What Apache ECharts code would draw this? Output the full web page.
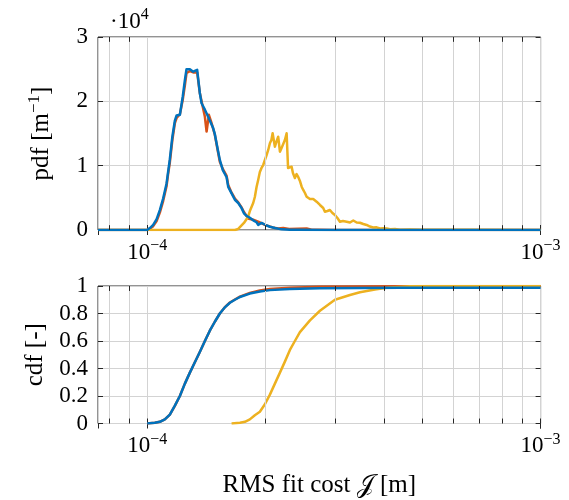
<!DOCTYPE html>
<html>
<head>
<meta charset="utf-8">
<script src="https://cdn.jsdelivr.net/npm/echarts@6/dist/echarts.min.js"></script>
<style>
  html, body { margin: 0; padding: 0; background: #ffffff; }
  #chart { width: 569px; height: 500px; }
</style>
</head>
<body>
<div id="chart"></div>
<script>
// Units used by the arrays below
const X_UNIT = 1e-4;     // RMS fit cost, stored in units of 1e-4 m
// pdf values are stored in units of 1e4 m^-1 (the axis carries the ·10^4 factor)

// x-axis range and minor grid positions (units of 1e-4 m)
const xMin = 0.75;
const xMax = 10;
const minorGridX = [0.8, 0.9, 2, 3, 4, 5, 6, 7, 8, 9];

// y-axis ticks
const pdfTicks = [0, 1, 2, 3];
const cdfTicks = [0, 0.2, 0.4, 0.6, 0.8, 1];

// ---- pdf, orange ----
const pdfOrangeX = [0.75, 1.00, 1.016, 1.036, 1.057, 1.077, 1.098, 1.120, 1.131, 1.142, 1.159, 1.176, 1.188, 1.211,
  1.232, 1.247, 1.259, 1.284, 1.309, 1.322, 1.340, 1.361, 1.375, 1.402, 1.416, 1.435, 1.458, 1.486, 1.513, 1.530,
  1.557, 1.592, 1.607, 1.639, 1.671, 1.704, 1.738, 1.762, 1.806, 1.860, 1.915, 1.992, 2.084, 2.153, 2.217, 2.296,
  2.543, 2.618, 2.749, 3.0, 10];
const pdfOrange = [0, 0, 0.02, 0.06, 0.14, 0.27, 0.45, 0.68, 0.88, 1.05, 1.40, 1.66, 1.74, 1.80,
  2.03, 2.25, 2.44, 2.47, 2.45, 2.46, 2.45, 2.13, 2.10, 1.76, 1.53, 1.79, 1.66, 1.48, 1.22, 1.06,
  0.95, 0.84, 0.70, 0.58, 0.49, 0.43, 0.35, 0.28, 0.18, 0.16, 0.13, 0.08, 0.04, 0.025, 0.03, 0.015,
  0.025, 0.005, 0.003, 0, 0];

// ---- pdf, yellow ----
const pdfYellowX = [0.75, 1.639, 1.671, 1.704, 1.721, 1.762, 1.806, 1.824, 1.860, 1.878, 1.897, 1.915, 1.934,
  1.953, 1.972, 1.992, 2.012, 2.031, 2.051, 2.069, 2.084, 2.100, 2.112, 2.130, 2.153, 2.175, 2.196, 2.217,
  2.239, 2.262, 2.281, 2.306, 2.329, 2.347, 2.374, 2.398, 2.421, 2.445, 2.470, 2.493, 2.518, 2.543, 2.567,
  2.593, 2.618, 2.643, 2.696, 2.721, 2.749, 2.802, 2.830, 2.872, 2.914, 2.957, 3.001, 3.045, 3.090, 3.145,
  3.214, 3.277, 3.341, 3.408, 3.474, 3.542, 3.613, 3.683, 3.755, 3.831, 3.906, 3.982, 4.061, 4.141, 4.264,
  4.390, 4.656, 4.935, 5.549, 6.614, 10];
const pdfYellow = [0, 0, 0, 0.016, 0.047, 0.109, 0.207, 0.295, 0.42, 0.513, 0.668, 0.777, 0.902,
  0.964, 1.01, 1.088, 1.166, 1.244, 1.348, 1.399, 1.503, 1.383, 1.295, 1.368, 1.45, 1.217, 1.275, 1.295,
  1.399, 1.503, 0.964, 0.98, 0.984, 0.886, 0.808, 0.87, 0.824, 0.762, 0.673, 0.622, 0.575, 0.518, 0.513,
  0.482, 0.466, 0.482, 0.44, 0.427, 0.389, 0.342, 0.284, 0.295, 0.311, 0.264, 0.233, 0.187, 0.129, 0.14,
  0.129, 0.117, 0.148, 0.117, 0.113, 0.093, 0.078, 0.054, 0.039, 0.042, 0.023, 0.026, 0.023, 0.011, 0.016,
  0.005, 0.008, 0.005, 0.003, 0.002, 0];

// ---- pdf, blue ----
const pdfBlueX = [0.75, 1.00, 1.016, 1.036, 1.057, 1.077, 1.098, 1.120, 1.142, 1.159, 1.176, 1.188, 1.211,
  1.232, 1.247, 1.259, 1.284, 1.309, 1.322, 1.340, 1.361, 1.375, 1.402, 1.429, 1.443, 1.472, 1.486, 1.513,
  1.530, 1.557, 1.592, 1.607, 1.639, 1.671, 1.704, 1.738, 1.762, 1.789, 1.824, 1.860, 1.897, 1.915, 1.953,
  1.972, 2.012, 2.051, 2.112, 2.196, 2.306, 2.445, 2.749, 10];
const pdfBlue = [0, 0, 0.03, 0.08, 0.17, 0.31, 0.49, 0.72, 1.10, 1.45, 1.70, 1.78, 1.79,
  2.08, 2.33, 2.50, 2.50, 2.46, 2.47, 2.49, 2.13, 1.97, 1.87, 1.76, 1.73, 1.58, 1.49, 1.24,
  1.09, 0.93, 0.82, 0.67, 0.57, 0.47, 0.42, 0.34, 0.26, 0.22, 0.19, 0.15, 0.12, 0.08, 0.11,
  0.11, 0.07, 0.05, 0.03, 0.01, 0.005, 0.003, 0, 0];

// ---- cdf, shared x grid for blue / orange ----
const cdfBOX = [1.0, 1.046, 1.077, 1.109, 1.142, 1.176, 1.211, 1.247, 1.284, 1.322, 1.361, 1.402, 1.443,
  1.486, 1.530, 1.576, 1.623, 1.671, 1.721, 1.824, 1.934, 2.051, 2.306, 2.749, 4.390, 10];
const cdfBlue = [0, 0.005, 0.012, 0.03, 0.065, 0.13, 0.20, 0.29, 0.37, 0.445, 0.52, 0.60, 0.675,
  0.74, 0.80, 0.845, 0.878, 0.90, 0.92, 0.945, 0.96, 0.97, 0.978, 0.984, 0.988, 0.988];
const cdfOrange = [0, 0.005, 0.012, 0.03, 0.064, 0.128, 0.20, 0.29, 0.37, 0.445, 0.52, 0.60, 0.675,
  0.74, 0.80, 0.846, 0.88, 0.902, 0.923, 0.95, 0.967, 0.978, 0.988, 0.994, 0.998, 0.999];

// ---- cdf, yellow ----
const cdfYellowX = [1.639, 1.721, 1.772, 1.824, 1.878, 1.934, 1.992, 2.051, 2.112, 2.175, 2.239, 2.306,
  2.374, 2.445, 2.593, 2.749, 3.001, 3.277, 3.474, 3.793, 4.141, 4.656, 5.233, 10];
const cdfYellow = [0, 0.005, 0.012, 0.03, 0.06, 0.085, 0.14, 0.21, 0.29, 0.37, 0.45, 0.535,
  0.60, 0.665, 0.75, 0.82, 0.90, 0.935, 0.955, 0.975, 0.99, 0.998, 1.0, 1.0];

// Colours
const C_BLUE = '#0072BD';
const C_ORANGE = '#D95319';
const C_YELLOW = '#EDB120';
const C_GRID = '#d3d3d3';
const C_AXIS = '#262626';

const FONT = 'Liberation Serif';
const FS = 23;        // tick labels
const FS_NAME = 25;   // axis titles
const FS_SUP = 16;
const LINE_W = 2.5;

const pairs = (xs, ys) => xs.map((x, i) => [x * X_UNIT, ys[i]]);

function richFor(size, supSize, raise) {
  return {
    base: { fontFamily: FONT, fontSize: size, fontWeight: 'normal', color: '#000', verticalAlign: 'bottom', lineHeight: size },
    sup: { fontFamily: FONT, fontSize: supSize, fontWeight: 'normal', color: '#000', verticalAlign: 'bottom', lineHeight: supSize, padding: [0, 0, raise, 0] }
  };
}
const tickRich = richFor(FS, FS_SUP, 10);
const nameRich = richFor(FS_NAME, 17, 11);

function decadeLabel(v) {
  const e = Math.log10(v);
  const r = Math.round(e);
  if (Math.abs(e - r) > 1e-6) return '';
  return '{base|10}{sup|' + (r < 0 ? '\u2212' : '') + Math.abs(r) + '}';
}

const gridBox = { left: 98, width: 442.6, show: true, borderColor: C_AXIS, borderWidth: 1, backgroundColor: 'transparent' };

function xAxisPair(gi, name) {
  const common = {
    type: 'log', logBase: 10, gridIndex: gi, min: xMin * X_UNIT, max: xMax * X_UNIT,
    axisLine: { show: false },
    axisTick: { show: true, inside: true, length: 5, lineStyle: { color: C_AXIS, width: 1 } },
    splitLine: { show: false }
  };
  const bottom = Object.assign({}, common, {
    position: 'bottom',
    axisLabel: { show: true, formatter: decadeLabel, rich: tickRich, margin: 11, showMinLabel: false, hideOverlap: false },
    splitLine: { show: true, lineStyle: { color: C_GRID, width: 1 } }
  });
  if (name) {
    bottom.name = name;
    bottom.nameLocation = 'middle';
    bottom.nameGap = 49;
    bottom.nameTextStyle = { fontFamily: FONT, fontSize: FS_NAME, color: '#000', rich: nameRich };
  }
  const top = Object.assign({}, common, { position: 'top', axisLabel: { show: false } });
  return [bottom, top];
}

function yAxisPair(gi, ticks, fmt, name) {
  const common = {
    type: 'value', gridIndex: gi, min: ticks[0], max: ticks[ticks.length - 1],
    interval: ticks[1] - ticks[0],
    axisLine: { show: false },
    axisTick: { show: true, inside: true, length: 5, lineStyle: { color: C_AXIS, width: 1 } }
  };
  const left = Object.assign({}, common, {
    position: 'left',
    axisLabel: { show: true, formatter: fmt, fontFamily: FONT, fontSize: FS, color: '#000', margin: 10 },
    splitLine: { show: true, lineStyle: { color: C_GRID, width: 1 } },
    name: name,
    nameLocation: 'middle',
    nameGap: 44,
    nameRotate: 90,
    nameTextStyle: { fontFamily: FONT, fontSize: FS_NAME, color: '#000', rich: nameRich }
  });
  const right = Object.assign({}, common, {
    position: 'right', axisLabel: { show: false }, splitLine: { show: false }
  });
  return [left, right];
}

// Minor log grid lines and their inside ticks for one grid
function minorSeries(xi, yi, yLo, yHi, tickLen) {
  return [
    {
      type: 'line', xAxisIndex: xi, yAxisIndex: yi, data: [], z: 1, silent: true,
      markLine: {
        silent: true, symbol: ['none', 'none'], label: { show: false }, animation: false,
        lineStyle: { color: C_GRID, width: 1, type: 'solid' },
        data: minorGridX.map(v => [{ coord: [v * X_UNIT, yLo] }, { coord: [v * X_UNIT, yHi] }])
      }
    },
    {
      type: 'line', xAxisIndex: xi, yAxisIndex: yi, data: [], z: 2, silent: true,
      markLine: {
        silent: true, symbol: ['none', 'none'], label: { show: false }, animation: false,
        lineStyle: { color: C_AXIS, width: 1, type: 'solid' },
        data: minorGridX.flatMap(v => [
          [{ coord: [v * X_UNIT, yLo] }, { coord: [v * X_UNIT, yLo + tickLen] }],
          [{ coord: [v * X_UNIT, yHi] }, { coord: [v * X_UNIT, yHi - tickLen] }]
        ])
      }
    }
  ];
}

function curve(xi, yi, xs, ys, color) {
  return {
    type: 'line', xAxisIndex: xi, yAxisIndex: yi, data: pairs(xs, ys),
    showSymbol: false, symbol: 'none', smooth: false, z: 3,
    lineStyle: { color: color, width: LINE_W, join: 'round' }, itemStyle: { color: color },
    emphasis: { disabled: true }, animation: false
  };
}

const [x0b, x0t] = xAxisPair(0, null);
const [x1b, x1t] = xAxisPair(1, '{base|RMS fit cost \uD835\uDCA5 [m]}');
const [y0l, y0r] = yAxisPair(0, pdfTicks, v => String(v), '{base|pdf [m}{sup|\u22121}{base|]}');
const [y1l, y1r] = yAxisPair(1, cdfTicks, v => (v === 0 || v === 1) ? String(v) : v.toFixed(1), '{base|cdf [-]}');

const chart = echarts.init(document.getElementById('chart'), null, { renderer: 'canvas' });
chart.setOption({
  animation: false,
  backgroundColor: '#ffffff',
  title: {
    text: '{base|\u00B710}{sup|4}',
    left: 105, top: 5,
    textStyle: { fontWeight: 'normal', rich: tickRich }
  },
  grid: [
    Object.assign({ top: 37, height: 193 }, gridBox),
    Object.assign({ top: 286, height: 137.5 }, gridBox)
  ],
  xAxis: [x0b, x0t, x1b, x1t],
  yAxis: [y0l, y0r, y1l, y1r],
  series: [
    ...minorSeries(0, 0, 0, 3, 0.075),
    ...minorSeries(2, 2, 0, 1, 0.036),
    curve(0, 0, pdfOrangeX, pdfOrange, C_ORANGE),
    curve(0, 0, pdfYellowX, pdfYellow, C_YELLOW),
    curve(0, 0, pdfBlueX, pdfBlue, C_BLUE),
    curve(2, 2, cdfBOX, cdfOrange, C_ORANGE),
    curve(2, 2, cdfYellowX, cdfYellow, C_YELLOW),
    curve(2, 2, cdfBOX, cdfBlue, C_BLUE)
  ]
});
</script>
</body>
</html>
